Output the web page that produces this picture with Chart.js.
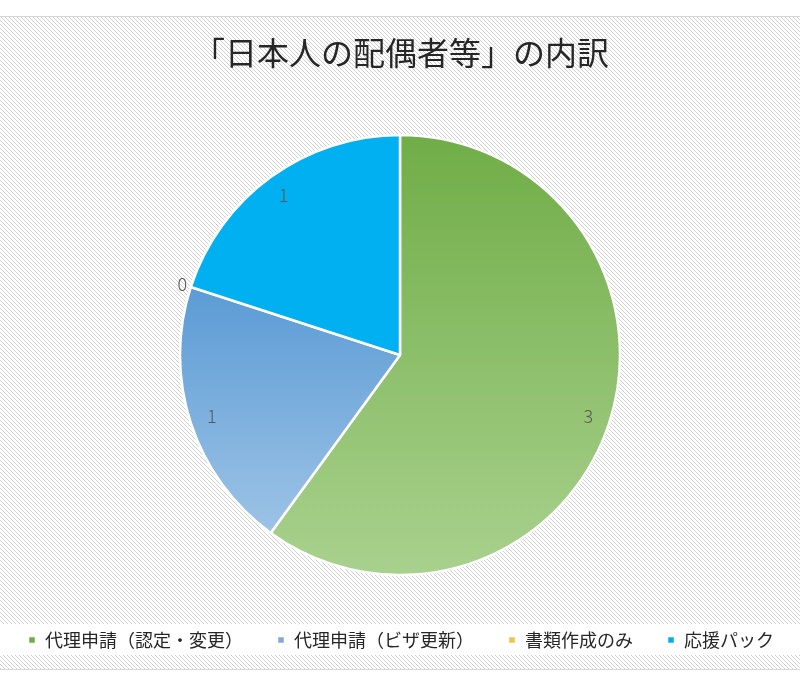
<!DOCTYPE html>
<html lang="ja">
<head>
<meta charset="utf-8">
<script src="https://cdn.jsdelivr.net/npm/chart.js@4/dist/chart.umd.min.js"></script>
<style>
  html, body { margin: 0; padding: 0; background: #fff; }
  #wrap { width: 800px; height: 684px; position: relative; }
</style>
</head>
<body>
<div id="wrap"><canvas id="chart"></canvas></div>
<script>
// data
const categories = ['代理申請（認定・変更）', '代理申請（ビザ更新）', '書類作成のみ', '応援パック'];
const counts = [3, 1, 0, 1];
const titleText = '「日本人の配偶者等」の内訳';

// colours: base (legend) and gradient top/bottom per slice
const baseColors = ['#70AD47', '#7FA9D6', '#F2C34A', '#00AEEF'];
const gradTop = ['#70AD47', '#5B9BD5', '#FFC000', '#00B0F0'];
const gradBottom = ['#A9D18E', '#9DC3E6', '#FFD966', '#00B0F0'];

const FONT = '"Noto Sans CJK JP", "Noto Sans", sans-serif';

// hatched background behind everything
const backgroundPlugin = {
  id: 'hatchBackground',
  beforeDraw(chart) {
    const ctx = chart.ctx;
    const w = chart.width, h = chart.height;
    ctx.save();
    ctx.fillStyle = '#ffffff';
    ctx.fillRect(0, 0, w, h);

    const tile = document.createElement('canvas');
    tile.width = 4;
    tile.height = 4;
    const t = tile.getContext('2d');
    t.fillStyle = '#ffffff';
    t.fillRect(0, 0, 4, 4);
    t.strokeStyle = '#d0d0d0';
    t.lineWidth = 1;
    t.beginPath();
    t.moveTo(-1, -1); t.lineTo(5, 5);
    t.moveTo(-1, 3); t.lineTo(1, 5);
    t.moveTo(3, -1); t.lineTo(5, 1);
    t.stroke();

    ctx.fillStyle = ctx.createPattern(tile, 'repeat');
    ctx.fillRect(0, 16, w, 653);

    // plain band behind the legend
    const lg = chart.legend;
    ctx.fillStyle = '#ffffff';
    ctx.fillRect(0, lg.top + 27, w, 31);

    ctx.strokeStyle = '#d4d4d4';
    ctx.lineWidth = 1;
    ctx.beginPath();
    ctx.moveTo(0, 16.5); ctx.lineTo(w, 16.5);
    ctx.moveTo(0, 669.5); ctx.lineTo(w, 669.5);
    ctx.stroke();
    ctx.restore();
  }
};

// vertical gradient per slice, spanning the slice's own height
const gradientPlugin = {
  id: 'sliceGradient',
  beforeDatasetsDraw(chart) {
    const ctx = chart.ctx;
    const meta = chart.getDatasetMeta(0);
    meta.data.forEach((arc, i) => {
      const p = arc.getProps(['x', 'y', 'startAngle', 'endAngle', 'outerRadius']);
      const ys = [p.y, p.y + p.outerRadius * Math.sin(p.startAngle), p.y + p.outerRadius * Math.sin(p.endAngle)];
      for (let k = -2; k <= 2; k++) {
        const a = Math.PI / 2 + k * Math.PI;
        if (a > p.startAngle && a < p.endAngle) ys.push(p.y + p.outerRadius * Math.sin(a));
      }
      const top = Math.min(...ys), bottom = Math.max(...ys);
      let fill = gradTop[i];
      if (bottom - top > 1) {
        fill = ctx.createLinearGradient(0, top, 0, bottom);
        fill.addColorStop(0, gradTop[i]);
        fill.addColorStop(1, gradBottom[i]);
      }
      arc.options = Object.assign({}, arc.options, { backgroundColor: fill });
    });
  }
};

// value labels near the rim
const valueLabelPlugin = {
  id: 'valueLabels',
  afterDatasetsDraw(chart) {
    const ctx = chart.ctx;
    const meta = chart.getDatasetMeta(0);
    const values = chart.data.datasets[0].data;
    ctx.save();
    ctx.font = '300 18px ' + FONT;
    ctx.fillStyle = '#595959';
    ctx.textAlign = 'center';
    ctx.textBaseline = 'middle';
    meta.data.forEach((arc, i) => {
      const p = arc.getProps(['x', 'y', 'startAngle', 'endAngle', 'outerRadius']);
      const mid = (p.startAngle + p.endAngle) / 2;
      const r = p.outerRadius * (values[i] ? 0.9 : 1.04);
      ctx.fillText(String(values[i]), p.x + r * Math.cos(mid), p.y + r * Math.sin(mid));
    });
    ctx.restore();
  }
};

new Chart(document.getElementById('chart'), {
  type: 'pie',
  data: {
    labels: categories,
    datasets: [{
      data: counts,
      backgroundColor: baseColors,
      borderColor: '#ffffff',
      borderWidth: 2.5,
      radius: 220
    }]
  },
  options: {
    responsive: true,
    maintainAspectRatio: false,
    animation: false,
    events: [],
    layout: { padding: { top: 0, bottom: 25, left: -6, right: -8 } },
    plugins: {
      title: {
        display: true,
        text: titleText,
        color: '#262626',
        font: { family: FONT, size: 32, weight: 'normal' },
        padding: { top: 34, bottom: 40.6 }
      },
      legend: {
        position: 'bottom',
        labels: {
          boxWidth: 8,
          boxHeight: 8,
          padding: 34,
          color: '#262626',
          font: { family: FONT, size: 18 }
        }
      },
      tooltip: { enabled: false }
    }
  },
  plugins: [backgroundPlugin, gradientPlugin, valueLabelPlugin]
});
</script>
</body>
</html>
